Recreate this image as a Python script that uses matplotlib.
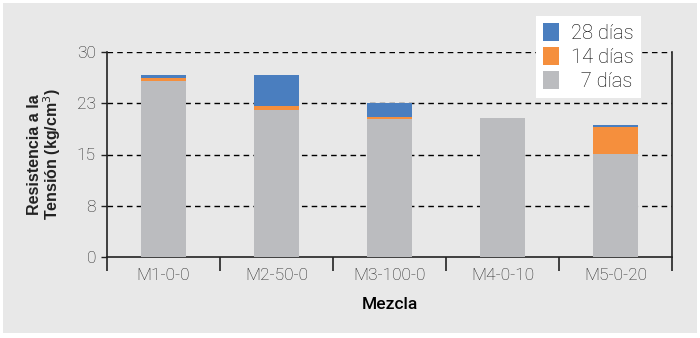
import numpy as np
import matplotlib.pyplot as plt
from matplotlib.patches import Rectangle

mezclas = ['M1-0-0', 'M2-50-0', 'M3-100-0', 'M4-0-10', 'M5-0-20']
d7 = [25.7, 21.5, 20.2, 20.4, 15.1]
d14 = [0.5, 0.65, 0.25, 0.0, 3.9]
d28 = [0.5, 4.55, 2.05, 0.0, 0.3]
yticks = [0, 7.5, 15, 22.5, 30]
ylabels = ['0', '8', '15', '23', '30']

gris = '#bbbcbf'
naranja = '#f58f3d'
azul = '#4a7ebf'
fondo = '#e8e8e8'

fig = plt.figure(figsize=(7, 3.38), dpi=100)
fig.patch.set_facecolor('white')
fig.patches.append(Rectangle((3/700, 5/338), 694/700, 330/338, transform=fig.transFigure,
                             facecolor=fondo, edgecolor='none', zorder=-10))
ax = fig.add_axes([107/700, 1-257/338, (672-107)/700, (257-52)/338])
ax.set_facecolor(fondo)

x = np.arange(len(mezclas))
b7 = ax.bar(x, d7, width=0.39, color=gris, zorder=3, label='  7 días')
b14 = ax.bar(x, d14, width=0.39, bottom=d7, color=naranja, zorder=3, label='14 días')
base = np.array(d7) + np.array(d14)
b28 = ax.bar(x, d28, width=0.39, bottom=base, color=azul, zorder=3, label='28 días')

ax.set_xlim(-0.5, 4.5)
ax.set_ylim(0, 30)
ax.set_yticks(yticks)
ax.set_yticklabels(ylabels)
for y in yticks[1:]:
    ax.axhline(y, color='black', ls=(0, (4, 3)), lw=1, zorder=1)

ax.set_xticks(x)
ax.set_xticklabels(mezclas)
ax.set_xticks(np.arange(-0.5, 5, 1), minor=True)
ax.tick_params(axis='x', which='major', length=0, pad=8)
ax.tick_params(axis='x', which='minor', length=10, width=1.2, color='#222222', direction='out')
ax.tick_params(axis='y', length=4, width=1, color='#222222', pad=4)
for lab in ax.get_xticklabels() + ax.get_yticklabels():
    lab.set_family('Roboto')
    lab.set_weight('light')
    lab.set_fontsize(12.5)
    lab.set_color('#222222')

for s in ['left', 'right', 'bottom']:
    ax.spines[s].set_color('#222222')
    ax.spines[s].set_linewidth(1.2)
ax.spines['top'].set_visible(False)

ax.set_xlabel('Mezcla', family='Roboto', weight='medium', fontsize=12.5, labelpad=10)
ax.set_ylabel('Resistencia a la\nTensión (kg/cm$^3$)', family='Liberation Sans', fontsize=11.5,
              weight='bold', color='#222222', labelpad=10, linespacing=0.95)

leg = ax.legend(handles=[b28, b14, b7], loc='upper right', bbox_to_anchor=(641/700, 1-16/338),
                bbox_transform=fig.transFigure, borderaxespad=0, frameon=True, fancybox=False,
                handlelength=0.8, handleheight=1.0, handletextpad=0.6, labelspacing=0.2,
                borderpad=0.35, prop={'family': 'Roboto', 'weight': 'light', 'size': 14.5})
leg.get_frame().set_facecolor('white')
leg.get_frame().set_edgecolor('none')
leg.get_frame().set_alpha(1)

fig.savefig('out.png', dpi=100)
